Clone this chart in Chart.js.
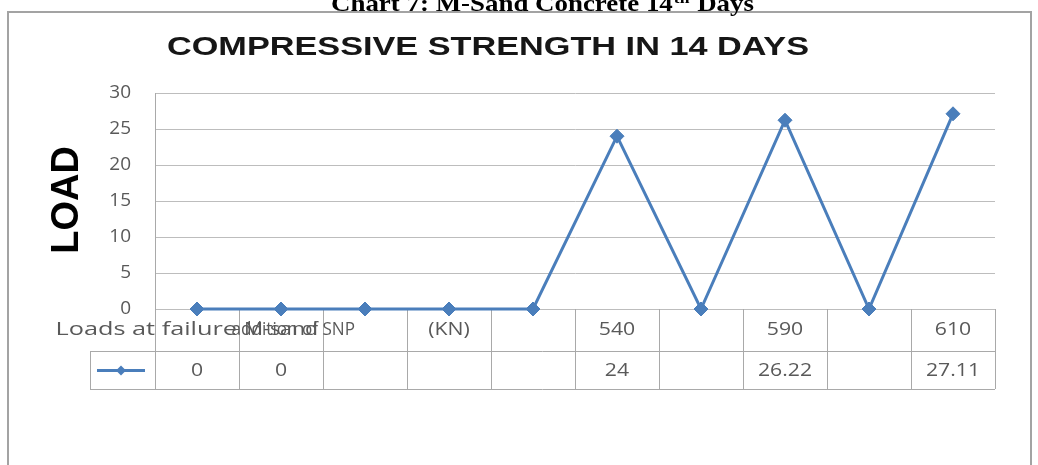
<!DOCTYPE html>
<html>
<head>
<meta charset="utf-8">
<script src="https://cdn.jsdelivr.net/npm/chart.js@4.4.1/dist/chart.umd.min.js"></script>
<style>
  html, body { margin: 0; padding: 0; background: #ffffff; overflow: hidden; }
  canvas { display: block; }
</style>
</head>
<body>
<canvas id="c" width="1038" height="465"></canvas>
<script>
// ---- chart content ----
const captionMain = 'Chart 7: M-Sand Concrete 14';
const captionSup = 'th';
const captionTail = ' Days';
const chartTitle = 'COMPRESSIVE STRENGTH IN 14 DAYS';
const axisTitle = 'LOAD';

// data-table header cells (one per category column)
const categories = ['Loads at failure', 'M-sand', 'addition of SNP', '(KN)', '', '540', '', '590', '', '610'];
// plotted load values
const loads = [0, 0, 0, 0, 0, 24, 0, 26.22, 0, 27.11];
// data-table value cells as printed
const tableValues = ['0', '0', '', '', '', '24', '', '26.22', '', '27.11'];
// y axis range / ticks
const yMin = 0, yMax = 30, yStep = 5;

const BLUE = '#4a7ebb';
const GRID = '#bdbdbd';
const TEXT_GRAY = '#595959';
const LABEL_FONT = '"Open Sans", sans-serif';

// draw text with a horizontal stretch factor; returns drawn width
function wideText(ctx, text, x, y, sx, align) {
  const w = ctx.measureText(text).width * sx;
  let left = x;
  if (align === 'center') left = x - w / 2;
  else if (align === 'right') left = x - w;
  ctx.save();
  ctx.translate(left, y);
  ctx.scale(sx, 1);
  ctx.textAlign = 'left';
  ctx.fillText(text, 0, 0);
  ctx.restore();
  return w;
}

// Frame, captions, axis title and the data table under the plot
const decorations = {
  id: 'decorations',
  beforeDraw(chart) {
    const ctx = chart.ctx;
    ctx.save();
    ctx.fillStyle = '#ffffff';
    ctx.fillRect(0, 0, chart.width, chart.height);

    // outer frame (open at the bottom)
    ctx.strokeStyle = '#a3a3a3';
    ctx.lineWidth = 2;
    ctx.beginPath();
    ctx.moveTo(8, chart.height + 2);
    ctx.lineTo(8, 12);
    ctx.lineTo(1031, 12);
    ctx.lineTo(1031, chart.height + 2);
    ctx.stroke();

    // figure caption (runs off the top edge)
    ctx.fillStyle = '#000000';
    ctx.textBaseline = 'alphabetic';
    const sx = 1.17;
    let x = 331;
    const base = 11;
    ctx.font = 'bold 23px "Liberation Serif", serif';
    x += wideText(ctx, captionMain, x, base, sx, 'left');
    ctx.font = 'bold 15px "Liberation Serif", serif';
    x += wideText(ctx, captionSup, x + 1, base - 8, sx, 'left') + 2;
    ctx.font = 'bold 23px "Liberation Serif", serif';
    wideText(ctx, captionTail, x, base, sx, 'left');

    // chart title
    ctx.font = 'bold 25px "Liberation Sans", Arial, sans-serif';
    ctx.fillStyle = '#161616';
    wideText(ctx, chartTitle, 488, 55, 1.37, 'center');

    // vertical axis title
    ctx.save();
    ctx.translate(78, 200);
    ctx.rotate(-Math.PI / 2);
    ctx.font = 'bold 38px "Liberation Sans", Arial, sans-serif';
    ctx.textAlign = 'center';
    ctx.textBaseline = 'alphabetic';
    ctx.fillStyle = '#000000';
    ctx.fillText(axisTitle, 0, 0);
    ctx.restore();
    ctx.restore();
  },
  beforeDatasetsDraw(chart) {
    const ctx = chart.ctx;
    const area = chart.chartArea;
    const xs = chart.scales.x;
    const n = categories.length;
    const colW = (area.right - area.left) / n;
    const rowTop = Math.round(area.bottom);
    const rowMid = rowTop + 42;
    const rowBot = rowMid + 38;
    const keyLeft = Math.round(area.left) - 65;

    ctx.save();
    ctx.strokeStyle = '#a9a9a9';
    ctx.lineWidth = 1;
    ctx.beginPath();
    for (let i = 0; i <= n; i++) {
      const cx = Math.round(area.left + i * colW) + 0.5;
      ctx.moveTo(cx, rowTop);
      ctx.lineTo(cx, rowBot);
    }
    ctx.moveTo(keyLeft, rowMid + 0.5);
    ctx.lineTo(area.right, rowMid + 0.5);
    ctx.moveTo(keyLeft, rowBot + 0.5);
    ctx.lineTo(area.right, rowBot + 0.5);
    ctx.moveTo(keyLeft + 0.5, rowMid);
    ctx.lineTo(keyLeft + 0.5, rowBot);
    ctx.stroke();

    // legend key in the value row
    const ky = (rowMid + rowBot) / 2 + 0.5;
    ctx.strokeStyle = BLUE;
    ctx.lineWidth = 3;
    ctx.beginPath();
    ctx.moveTo(keyLeft + 7, ky);
    ctx.lineTo(area.left - 10, ky);
    ctx.stroke();
    const kx = (keyLeft + 7 + area.left - 10) / 2;
    ctx.fillStyle = BLUE;
    ctx.beginPath();
    ctx.moveTo(kx - 5, ky); ctx.lineTo(kx, ky - 5); ctx.lineTo(kx + 5, ky); ctx.lineTo(kx, ky + 5);
    ctx.closePath();
    ctx.fill();

    // header and value cells
    const sx = 1.18;
    ctx.font = '18px ' + LABEL_FONT;
    ctx.fillStyle = TEXT_GRAY;
    ctx.textBaseline = 'middle';
    const hy = (rowTop + rowMid) / 2;
    categories.forEach((label, i) => {
      if (!label) return;
      const center = xs.getPixelForValue(i);
      const left = area.left + i * colW;
      const w = ctx.measureText(label).width * sx;
      // long labels spill over the cell borders and run into each other
      if (w > colW - 6) {
        if (i === 0) {
          ctx.font = '19px ' + LABEL_FONT;
          wideText(ctx, label, left + colW - 2, hy, 1.33, 'right');
          ctx.font = '18px ' + LABEL_FONT;
        }
        else if (i === 1) wideText(ctx, label, left, hy, 1.0, 'left');
        else wideText(ctx, label, center - 10, hy, 0.95, 'right');
      } else {
        wideText(ctx, label, center, hy, sx, 'center');
      }
    });
    tableValues.forEach((v, i) => {
      if (!v) return;
      wideText(ctx, v, xs.getPixelForValue(i), ky, sx, 'center');
    });
    ctx.restore();
  }
};

new Chart(document.getElementById('c'), {
  type: 'line',
  data: {
    labels: categories,
    datasets: [{
      data: loads,
      borderColor: BLUE,
      backgroundColor: BLUE,
      borderWidth: 3,
      pointStyle: 'rectRot',
      pointRadius: 7,
      pointBorderWidth: 1,
      pointBackgroundColor: BLUE,
      pointBorderColor: BLUE,
      tension: 0,
      clip: false
    }]
  },
  options: {
    responsive: false,
    devicePixelRatio: 1,
    animation: false,
    layout: { padding: { left: 0, right: 43, top: 93, bottom: 156 } },
    plugins: { legend: { display: false }, title: { display: false }, tooltip: { enabled: false } },
    scales: {
      x: { display: false, offset: true },
      y: {
        min: yMin, max: yMax,
        ticks: { stepSize: yStep, color: TEXT_GRAY, padding: 24, font: { family: LABEL_FONT, size: 19 } },
        grid: { color: GRID, lineWidth: 1, drawTicks: false },
        border: { color: '#a9a9a9', width: 1 },
        afterFit(scale) { scale.width = 155; }
      }
    }
  },
  plugins: [decorations]
});
</script>
</body>
</html>
